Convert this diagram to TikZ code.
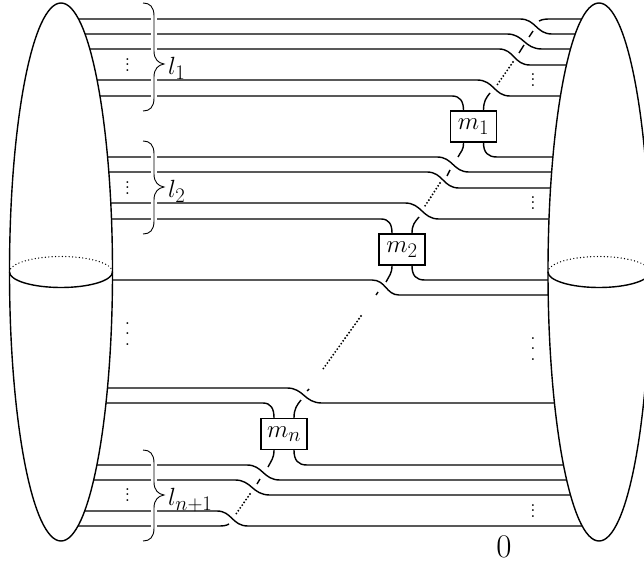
\documentclass[tikz,border=0pt]{standalone}
\usepackage{amsmath,amssymb}
\usetikzlibrary{positioning}

\newcommand{\strandbrace}[3]{%
  \draw[white,line width=6pt] (153.5,#1+5) -- (153.5,#3-5);
  \draw[bracestyle] (143,#1) .. controls (150,#1) and (154,#1+4) .. (154,#1+13)
    -- (154,#2-13) .. controls (154,#2-5) and (158,#2-1) .. (164,#2)
    .. controls (158,#2+1) and (154,#2+5) .. (154,#2+13)
    -- (154,#3-13) .. controls (154,#3-4) and (150,#3) .. (143,#3);
}
\newcommand{\sheetdots}[1]{$\vcenter{\baselineskip=#1 \lineskiplimit=-10pt \hbox{.}\hbox{.}\hbox{.}}$}

\begin{document}
\begin{tikzpicture}[
  x=1pt,y=-1pt,
  every node/.style={font=\fontsize{24.88}{29}\selectfont},
  strand/.style={line width=1.4pt},
  bracestyle/.style={line width=0.9pt},
  sheet/.style={line width=1.4pt,fill=white},
  waistline/.style={line width=1.4pt,line cap=round,dash pattern=on 0pt off 3.4pt},
  dotline/.style={line width=2.1pt,line cap=round,dash pattern=on 0pt off 3.4pt},
  dashline/.style={line width=1.4pt},
  mbox/.style={draw,line width=1.4pt,fill=white,minimum width=46pt,minimum height=31pt,inner sep=0pt},
  dotsnode/.style={font=\fontsize{23}{23}\selectfont,inner sep=0pt},
]
  \clip (0,0) rectangle (644,564);
  % Boxes
  \node[mbox] (m1) at (473.5,126.5) {$m_1$};
  \node[mbox] (m2) at (402,249.5) {$m_2$};
  \node[mbox] (mn) at (284,434) {$m_n$};
  % Group 1
  \draw[strand] (61,19) -- (520,19) .. controls (536,19) and (536,34) .. (552,34) -- (599,34);
  \draw[strand] (61,34) -- (507,34) .. controls (524,34) and (524,49) .. (542,49) -- (599,49);
  \draw[strand] (61,49) -- (499,49) .. controls (514,49) and (514,65) .. (530,65) -- (599,65);
  \draw[strand] (61,80) -- (477,80) .. controls (494,80) and (494,96) .. (510,96) -- (599,96);
  \draw[strand] (61,96) -- (452,96) .. controls (460,96) and ([xshift=-10pt,yshift=9pt]m1.north) .. ([xshift=-10pt]m1.north);
  % Group 2
  \draw[strand] ([xshift=10pt]m1.south) .. controls ([xshift=10pt,yshift=-10pt]m1.south) and (488,157) .. (497,157) -- (599,157);
  \draw[strand] (61,157) -- (437,157) .. controls (453,157) and (453,172) .. (469,172) -- (599,172);
  \draw[strand] (61,172) -- (427,172) .. controls (443,172) and (443,188) .. (459,188) -- (599,188);
  \draw[strand] (61,203) -- (405,203) .. controls (422,203) and (422,219) .. (439,219) -- (599,219);
  \draw[strand] (61,219) -- (381,219) .. controls (389,219) and ([xshift=-10pt,yshift=9pt]m2.north) .. ([xshift=-10pt]m2.north);
  % Middle strands
  \draw[strand] ([xshift=10pt]m2.south) .. controls ([xshift=10pt,yshift=-10pt]m2.south) and (416,280) .. (425,280) -- (599,280);
  \draw[strand] (61,280) -- (372,280) .. controls (386,280) and (386,295) .. (399,295) -- (599,295);
  \draw[strand] (61,388) -- (287,388) .. controls (304,388) and (304,403) .. (322,403) -- (599,403);
  \draw[strand] (61,403) -- (263,403) .. controls (271,403) and ([xshift=-10pt,yshift=9pt]mn.north) .. ([xshift=-10pt]mn.north);
  % Group n+1
  \draw[strand] ([xshift=10pt]mn.south) .. controls ([xshift=10pt,yshift=-10pt]mn.south) and (298,465) .. (307,465) -- (599,465);
  \draw[strand] (61,465) -- (247,465) .. controls (263,465) and (263,480) .. (280,480) -- (599,480);
  \draw[strand] (61,480) -- (235,480) .. controls (252,480) and (252,495) .. (270,495) -- (599,495);
  \draw[strand] (61,511) -- (217,511) .. controls (232,511) and (232,526) .. (248,526) -- (599,526);
  \draw[strand] (61,526) -- (217,526) .. controls (222,526) and (226,526) .. (229,524);
  % Diagonal strand
  \draw[strand] (539,21) .. controls (543,19) and (546,19) .. (552,19) -- (599,19);
  \draw[dashline] (533,31) -- (529,37);
  \draw[dashline] (524,45) -- (519,53);
  \draw[dotline] (513,62) -- (497,85);
  \draw[strand] (490,93) .. controls (486,98) and ([xshift=10pt,yshift=9pt]m1.north) .. ([xshift=10pt]m1.north);
  \draw[strand] ([xshift=-10pt]m1.south) .. controls ([xshift=-10pt,yshift=-8pt]m1.south) and (461,151) .. (458,157);
  \draw[dashline] (450,170) -- (447,176);
  \draw[dotline] (440,183) -- (425,206);
  \draw[strand] (419,217) .. controls (415,222) and ([xshift=10pt,yshift=9pt]m2.north) .. ([xshift=10pt]m2.north);
  \draw[strand] ([xshift=-10pt]m2.south) .. controls ([xshift=-10pt,yshift=-8pt]m2.south) and (389,276) .. (386,282);
  \draw[dashline] (378,292) -- (376,295);
  \draw[dotline] (361,316) -- (323,369);
  \draw[dashline] (309,389) -- (307,391);
  \draw[strand] (301,400) .. controls (297,405) and ([xshift=10pt,yshift=9pt]mn.north) .. ([xshift=10pt]mn.north);
  \draw[strand] ([xshift=-10pt]mn.south) .. controls ([xshift=-10pt,yshift=-8pt]mn.south) and (271,461) .. (268,467);
  \draw[dashline] (260,479) -- (257,484);
  \draw[dotline] (250,494) -- (236,514);
  % Braces
  \strandbrace{3}{64}{111}
  \strandbrace{141}{187}{234}
  \strandbrace{450}{495}{541}
  \node[anchor=west,inner sep=0pt] (l1) at (168,68) {$l_1$};
  \node[anchor=west,inner sep=0pt] (l2) at (168,191) {$l_2$};
  \node[anchor=west,inner sep=0pt] (l3) at (168,500) {$l_{n+1}$};
  % Sheets
  \draw[sheet] (61,272) ellipse (51.5 and 269);
  \draw[sheet] (599,272) ellipse (51 and 269);
  \draw[strand] (9.5,272) arc (180:0:51.5 and 15.5);
  \draw[waistline] (9.5,272) arc (180:360:51.5 and 15.5);
  \draw[strand] (548,272) arc (180:0:51 and 15.5);
  \draw[waistline] (548,272) arc (180:360:51 and 15.5);
  % Dots
  \node[dotsnode] (d1) at (127.5,65) {\sheetdots{5.4pt}};
  \node[dotsnode] (d2) at (127.5,188) {\sheetdots{5.4pt}};
  \node[dotsnode] (d3) at (127.5,334) {\sheetdots{10.4pt}};
  \node[dotsnode] (d4) at (127.5,495) {\sheetdots{5.4pt}};
  \node[dotsnode] (d5) at (533,80) {\sheetdots{5.4pt}};
  \node[dotsnode] (d6) at (533,203) {\sheetdots{5.4pt}};
  \node[dotsnode] (d7) at (533,349) {\sheetdots{10.4pt}};
  \node[dotsnode] (d8) at (533,511) {\sheetdots{5.4pt}};
  \node[font=\fontsize{33}{38}\selectfont,inner sep=0pt] (zero) at (504,547) {0};
\end{tikzpicture}
\end{document}
